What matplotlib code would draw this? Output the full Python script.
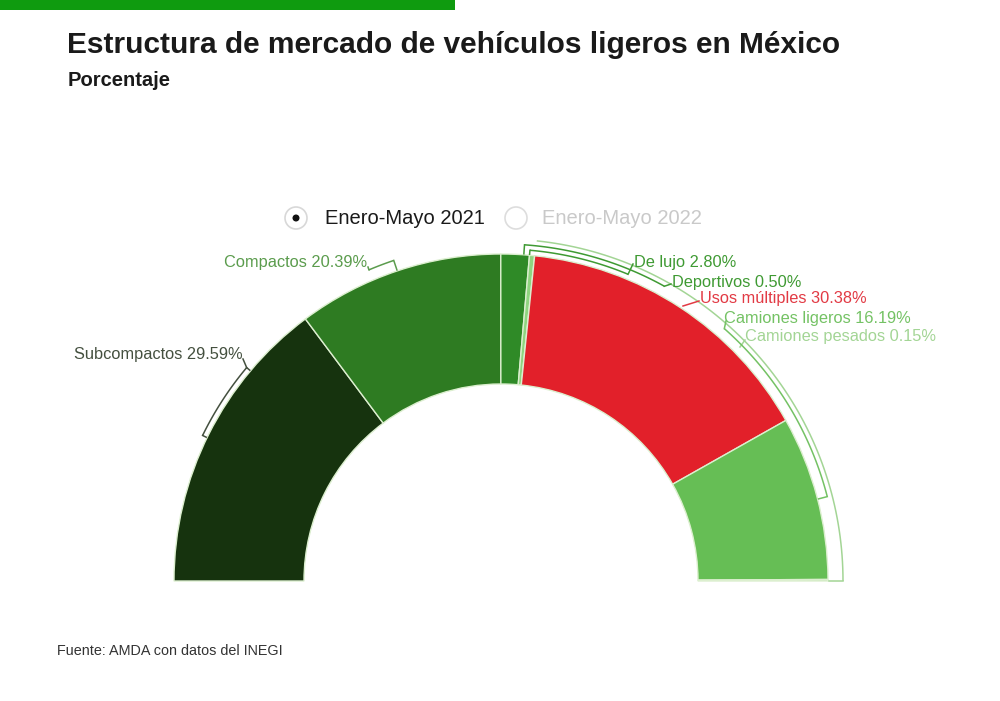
import numpy as np
import matplotlib
matplotlib.use("Agg")
import matplotlib.pyplot as plt
from matplotlib.patches import Wedge, Rectangle, Circle

plt.rcParams['font.family'] = ['Liberation Sans', 'DejaVu Sans']

# data
categories = ["Subcompactos", "Compactos", "De lujo", "Deportivos",
              "Usos múltiples", "Camiones ligeros", "Camiones pesados"]
shares = [29.59, 20.39, 2.80, 0.50, 30.38, 16.19, 0.15]
legend_labels = ["Enero-Mayo 2021", "Enero-Mayo 2022"]

colors = ["#16330e", "#2e7b22", "#2f8a27", "#8fd47f",
          "#e2202a", "#66be55", "#a6dc97"]
label_colors = ["#44503f", "#5b9c4d", "#3f9a33", "#3f9a33",
                "#e23a44", "#74c264", "#a3d595"]

# geometry in pixel units (y measured upward)
H = 701
cx, cy = 501, H - 581
R_out, R_in = 327, 197

fig = plt.figure(figsize=(10, 7.01), dpi=100)
ax = fig.add_axes([0, 0, 1, 1])
ax.set_xlim(0, 1000)
ax.set_ylim(0, H)
ax.axis("off")

# top green bar
ax.add_patch(Rectangle((0, H - 10), 455, 10, color="#0f9b0f", lw=0))

ax.text(67, H - 45, "Estructura de mercado de vehículos ligeros en México",
        fontsize=21.5, fontweight="bold", color="#1a1a1a", va="center", ha="left")
ax.text(68, H - 80, "Porcentaje", fontsize=14.5, fontweight="bold",
        color="#1a1a1a", va="center", ha="left")

# legend (radio buttons)
ax.add_patch(Circle((296, H - 218), 11, fill=False, ec="#d8d8d8", lw=1.2))
ax.add_patch(Circle((296, H - 218), 2.8, color="#111111"))
ax.text(325, H - 218, legend_labels[0], fontsize=14.5, color="#1a1a1a", va="center")
ax.add_patch(Circle((516, H - 218), 11, fill=False, ec="#dddddd", lw=1.2))
ax.text(542, H - 218, legend_labels[1], fontsize=14.5, color="#c9c9c9", va="center")

# half donut
cum = np.concatenate([[0], np.cumsum(shares)])
for i, val in enumerate(shares):
    t_start = 180 - cum[i] * 1.8
    t_end = 180 - cum[i + 1] * 1.8
    ax.add_patch(Wedge((cx, cy), R_out, t_end, t_start, width=R_out - R_in,
                       facecolor=colors[i], edgecolor="#dcefcf", lw=1.0))


def pt(ang, r):
    a = np.radians(ang)
    return cx + r * np.cos(a), cy + r * np.sin(a)


def bracket(a0, a1, r, color, ticks=(True, True)):
    th = np.linspace(a0, a1, 80)
    xs, ys = pt(th, r)
    ax.plot(xs, ys, color=color, lw=1.1, solid_capstyle="butt")
    for a, on in zip((a0, a1), ticks):
        if on:
            x0, y0 = pt(a, r)
            x1, y1 = pt(a, R_out + 1)
            ax.plot([x0, x1], [y0, y1], color=color, lw=1.1)


def leader(p0, p1, color):
    ax.plot([p0[0], p1[0]], [H - p0[1], H - p1[1]], color=color, lw=1.1)


# brackets and leaders
bracket(140, 154, 332, label_colors[0])
x0, y0 = pt(140, 332)
leader((x0, H - y0), (243, 359), label_colors[0])

bracket(108.5, 113, 338, label_colors[1], ticks=(True, False))
x0, y0 = pt(113, 338)
leader((x0, H - y0), (368, 267), label_colors[1])

bracket(84, 0, 342, label_colors[6], ticks=(False, True))
leader((740, 347), (745, 340), label_colors[6])

bracket(48.5, 14.5, 337, label_colors[5], ticks=(False, True))
x0, y0 = pt(48.5, 337)
leader((x0, H - y0), (726, 321), label_colors[5])

leader((683, 306), (699, 301), label_colors[4])

bracket(86, 61, 337, label_colors[3], ticks=(True, False))
x0, y0 = pt(61, 337)
leader((x0, H - y0), (671, 284), label_colors[3])

bracket(85, 67.5, 332, label_colors[2], ticks=(True, False))
x0, y0 = pt(67.5, 332)
leader((x0, H - y0), (633, 264), label_colors[2])

# labels
lab_pos = [(243, 355, "right"), (367, 263, "right"), (634, 263, "left"),
           (672, 282, "left"), (700, 299, "left"), (724, 318, "left"),
           (745, 337, "left")]
for i, (x, y, ha) in enumerate(lab_pos):
    ax.text(x, H - y, f"{categories[i]} {shares[i]:.2f}%", fontsize=11.8,
            color=label_colors[i], ha=ha, va="center")

ax.text(57, H - 651, "Fuente: AMDA con datos del INEGI", fontsize=10.4,
        color="#333333", ha="left", va="center")

fig.savefig("out.png", dpi=100, facecolor="white")
